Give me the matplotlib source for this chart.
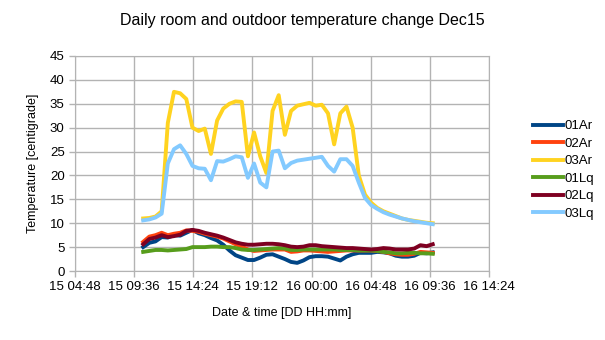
import numpy as np
import pandas as pd
import matplotlib
matplotlib.use("Agg")
import matplotlib.pyplot as plt
import matplotlib.dates as mdates

plt.rcParams['font.family'] = ['Liberation Sans', 'DejaVu Sans']

# logger readings, every 30 min from 15 Dec 10:20
times = pd.date_range("2015-12-15 10:20", periods=48, freq="30min")

t01Ar = [5.0, 5.9, 6.2, 7.1, 7.0, 7.5, 7.4, 8.0, 8.6, 7.9, 7.5, 6.9, 6.4, 5.5, 4.3, 3.3,
         2.8, 2.3, 2.3, 2.8, 3.4, 3.5, 3.0, 2.5, 1.9, 1.7, 2.2, 2.9, 3.1, 3.1, 3.0, 2.6,
         2.2, 3.0, 3.5, 3.8, 3.8, 3.8, 4.0, 3.9, 3.7, 3.2, 3.0, 3.0, 3.2, 3.8, 3.7, 3.9]
t02Ar = [6.1, 7.2, 7.5, 8.0, 7.5, 7.8, 8.0, 8.5, 8.4, 8.2, 7.8, 7.5, 7.2, 6.8, 6.2, 5.6,
         5.1, 4.5, 4.2, 4.3, 4.4, 4.5, 4.5, 4.5, 4.0, 4.1, 4.3, 4.3, 4.2, 4.1, 4.0, 4.1,
         4.2, 4.3, 4.3, 4.3, 4.3, 4.3, 4.2, 4.0, 3.7, 3.5, 3.4, 3.4, 3.6, 4.0, 3.9, 3.8]
t03Ar = [11.0, 11.1, 11.4, 12.5, 31.0, 37.5, 37.2, 36.0, 30.0, 29.3, 29.8, 24.5, 31.5, 34.0, 35.0, 35.5,
         35.4, 24.0, 29.0, 24.0, 20.5, 33.5, 36.8, 28.5, 33.5, 34.6, 34.9, 35.2, 34.6, 34.8, 33.0, 26.5,
         33.0, 34.4, 30.0, 20.0, 16.0, 14.3, 13.2, 12.5, 12.0, 11.5, 11.0, 10.7, 10.5, 10.3, 10.1, 10.0]
t01Lq = [4.0, 4.2, 4.4, 4.4, 4.3, 4.4, 4.5, 4.6, 5.0, 5.0, 5.0, 5.1, 5.1, 5.0, 5.0, 4.8,
         4.5, 4.4, 4.4, 4.5, 4.6, 4.7, 4.8, 4.7, 4.4, 4.4, 4.5, 4.5, 4.5, 4.5, 4.5, 4.5,
         4.4, 4.4, 4.4, 4.3, 4.3, 4.3, 4.2, 4.0, 3.9, 3.7, 3.7, 3.8, 3.8, 3.7, 3.7, 3.6]
t02Lq = [5.6, 6.7, 7.0, 7.5, 7.1, 7.3, 7.6, 8.4, 8.6, 8.4, 8.0, 7.7, 7.4, 7.0, 6.5, 6.0,
         5.7, 5.5, 5.5, 5.6, 5.7, 5.7, 5.6, 5.4, 5.1, 5.0, 5.1, 5.4, 5.4, 5.2, 5.1, 5.0,
         4.9, 4.8, 4.8, 4.7, 4.6, 4.5, 4.6, 4.8, 4.7, 4.5, 4.5, 4.5, 4.7, 5.4, 5.2, 5.6]
t03Lq = [10.6, 10.8, 11.2, 12.0, 22.5, 25.5, 26.3, 24.5, 22.0, 21.5, 21.4, 19.0, 23.0, 22.9, 23.4, 24.0,
         23.8, 19.5, 22.5, 18.5, 17.5, 25.0, 25.2, 21.5, 22.6, 23.1, 23.3, 23.5, 23.7, 23.9, 22.0, 20.8,
         23.4, 23.4, 22.0, 18.5, 15.3, 13.8, 13.0, 12.3, 11.8, 11.4, 11.0, 10.7, 10.4, 10.2, 10.0, 9.8]

names = ["01Ar", "02Ar", "03Ar", "01Lq", "02Lq", "03Lq"]
colors = ["#004586", "#ff420e", "#ffd320", "#579d1c", "#7e0021", "#83caff"]

fig = plt.figure(figsize=(6.05, 3.4), dpi=100)
ax = fig.add_axes([75/605, 1-271/340, (489-75)/605, (271-56)/340])

for vals, name, c in zip([t01Ar, t02Ar, t03Ar, t01Lq, t02Lq, t03Lq], names, colors):
    ax.plot(times, vals, color=c, lw=2.8, label=name, solid_joinstyle='round')

# axis ticks every 4 h 48 min
start = pd.Timestamp("2015-12-15 04:48")
ticks = [start + pd.Timedelta(minutes=288 * i) for i in range(8)]
ax.set_xticks(ticks)
ax.set_xlim(ticks[0], ticks[-1])
ax.xaxis.set_major_formatter(mdates.DateFormatter("%d %H:%M"))
ax.set_ylim(0, 45)
ax.set_yticks(np.arange(0, 46, 5))

ax.grid(True, color="#b3b3b3", lw=1)
ax.set_axisbelow(True)
for s in ax.spines.values():
    s.set_color("#b3b3b3")
ax.tick_params(colors="#b3b3b3", labelcolor="black", labelsize=9.5, length=4, width=1)

ax.set_xlabel("Date & time [DD HH:mm]", fontsize=9, labelpad=10)
ax.set_ylabel("Temperature [centigrade]", fontsize=9, labelpad=8)
fig.text(0.5, 1-20/340, "Daily room and outdoor temperature change Dec15",
         ha="center", va="center", fontsize=11.5)

fig.legend(loc="center left", bbox_to_anchor=(521/605, 1-170/340), frameon=False,
           fontsize=9.5, handlelength=2.3, handletextpad=0.1, labelspacing=0.4)

fig.savefig("out.png", dpi=100)
